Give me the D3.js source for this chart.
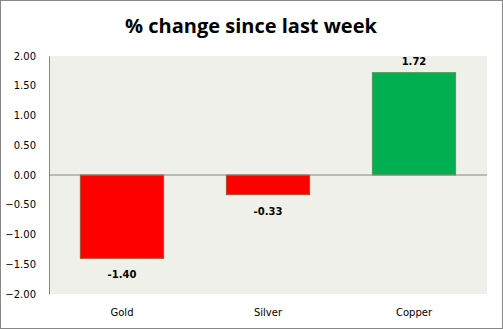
<!DOCTYPE html>
<html><head><meta charset="utf-8">
<script src="https://cdn.jsdelivr.net/npm/d3@7"></script>
<style>body{margin:0;background:#fff}svg{display:block}</style>
</head><body>
<svg id="c" width="503" height="329"></svg>
<script>
const categories = ["Gold", "Silver", "Copper"];
const values = [-1.40, -0.33, 1.72];
const valueLabels = ["-1.40", "-0.33", "1.72"];
const yTicks = [2, 1.5, 1, 0.5, 0, -0.5, -1, -1.5, -2];
const title = "% change since last week";

const svg = d3.select("#c");
const W = 503, H = 329;
const m = {left: 49, right: 16, top: 56, bottom: 35};

svg.append("rect").attr("x", 0.5).attr("y", 0.5).attr("width", W - 1).attr("height", H - 1)
  .attr("fill", "#fff").attr("stroke", "#878787");

const x = d3.scaleBand().domain(categories).range([m.left, W - m.right]).paddingInner(0.43).paddingOuter(0.215);
const y = d3.scaleLinear().domain([-2, 2]).range([H - m.bottom, m.top]);

svg.append("rect").attr("x", m.left).attr("y", m.top)
  .attr("width", W - m.right - m.left).attr("height", H - m.bottom - m.top)
  .attr("fill", "#EFF0EA");

svg.append("text").attr("x", 251).attr("y", 33).attr("text-anchor", "middle")
  .attr("font-family", "Open Sans, sans-serif").attr("font-weight", "bold").attr("font-size", 20)
  .attr("fill", "#000").text(title);

// y axis
const ya = svg.append("g").attr("transform", `translate(${m.left},0)`)
  .call(d3.axisLeft(y).tickValues(yTicks).tickFormat(d3.format(".2f")).tickSize(0).tickPadding(13));
ya.select(".domain").attr("stroke", "#868686");
ya.selectAll("text").attr("font-family", "DejaVu Sans, Verdana, sans-serif").attr("font-size", 10).attr("fill", "#000");

// bars
svg.selectAll(".bar").data(values).join("rect")
  .attr("x", (d, i) => x(categories[i]))
  .attr("y", d => y(Math.max(0, d)))
  .attr("width", x.bandwidth())
  .attr("height", d => Math.abs(y(d) - y(0)))
  .attr("fill", d => d < 0 ? "#FF0000" : "#00B050")
  .attr("stroke", d => d < 0 ? "#A0522D" : "#4E9A5A")
  .attr("stroke-width", 1);

// zero line
svg.append("line").attr("x1", m.left).attr("x2", W - m.right)
  .attr("y1", y(0)).attr("y2", y(0)).attr("stroke", "#868686");

// value labels
svg.selectAll(".vl").data(values).join("text")
  .attr("x", (d, i) => x(categories[i]) + x.bandwidth() / 2)
  .attr("y", d => d < 0 ? y(d) + 20 : y(d) - 8)
  .attr("text-anchor", "middle")
  .attr("font-family", "DejaVu Sans, Verdana, sans-serif").attr("font-weight", "bold").attr("font-size", 10)
  .text((d, i) => valueLabels[i]);

// category labels
const xa = svg.append("g").attr("transform", `translate(0,${H - m.bottom})`)
  .call(d3.axisBottom(x).tickSize(0).tickPadding(15));
xa.select(".domain").remove();
xa.selectAll("text").attr("font-family", "DejaVu Sans, Verdana, sans-serif").attr("font-size", 10).attr("fill", "#000");
</script>
</body></html>
